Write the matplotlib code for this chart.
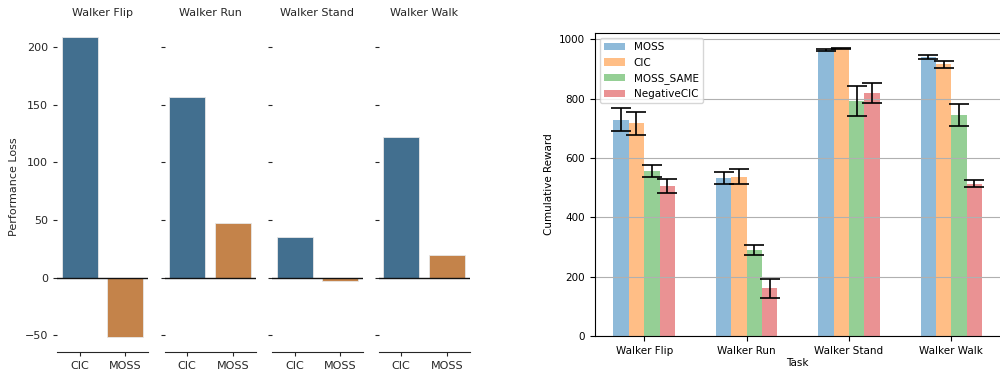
import matplotlib
matplotlib.use("Agg")
import matplotlib.pyplot as plt
import numpy as np

# left: performance loss per task
tasks = ["Walker Flip", "Walker Run", "Walker Stand", "Walker Walk"]
loss_methods = ["CIC", "MOSS"]
loss_cic = [209, 157, 35.5, 122]
loss_moss = [-51.5, 47.5, -2.6, 20]

# right: cumulative reward
methods = ["MOSS", "CIC", "MOSS_SAME", "NegativeCIC"]
reward_moss = [729, 532, 963, 940]
reward_cic = [716, 536, 969, 915]
reward_moss_same = [555, 290, 791, 746]
reward_negcic = [506, 160, 819, 513]
err_moss = [40, 20, 4, 6]
err_cic = [40, 25, 3, 13]
err_moss_same = [20, 18, 50, 37]
err_negcic = [24, 33, 35, 12]

fig = plt.figure(figsize=(10, 3.72), dpi=100)

txt = "#262626"
loss_colors = ["#426F8F", "#C4834A"]

# left small multiples
lefts = [0.057, 0.1645, 0.272, 0.3785]
axes = []
for i, task in enumerate(tasks):
    if i == 0:
        ax = fig.add_axes([lefts[i], 0.054, 0.091, 0.887])
    else:
        ax = fig.add_axes([lefts[i], 0.054, 0.091, 0.887], sharey=axes[0])
    axes.append(ax)
    vals = [loss_cic[i], loss_moss[i]]
    ax.bar(range(2), vals, width=0.8, color=loss_colors,
           edgecolor="#e8e8e8", linewidth=0.6)
    ax.axhline(0, color="#111111", linewidth=1.0)
    ax.set_xlim(-0.5, 1.5)
    ax.set_xticks(range(2))
    ax.set_xticklabels(loss_methods)
    ax.set_title(task, fontsize=8, color=txt, pad=4)
    for s in ["top", "right", "left"]:
        ax.spines[s].set_visible(False)
    ax.spines["bottom"].set_color(txt)
    ax.tick_params(axis="both", labelsize=8, colors=txt, length=3, width=0.8)
    if i > 0:
        plt.setp(ax.get_yticklabels(), visible=False)

axes[0].set_yticks([-50, 0, 50, 100, 150, 200])
axes[0].set_ylim(-64.5, 222)
axes[0].set_ylabel("Performance Loss", fontsize=8, color=txt)

# right grouped bar chart
ax2 = fig.add_axes([0.595, 0.097, 0.4055, 0.814])
x = np.arange(len(tasks))
w = 0.15
series = [reward_moss, reward_cic, reward_moss_same, reward_negcic]
errs = [err_moss, err_cic, err_moss_same, err_negcic]
cols = ["tab:blue", "tab:orange", "tab:green", "tab:red"]
for k in range(4):
    ax2.bar(x + (k - 1.5) * w, series[k], w, yerr=errs[k], color=cols[k],
            alpha=0.5, label=methods[k], capsize=7.5,
            error_kw=dict(elinewidth=1.2, capthick=1.2, ecolor="black"))
ax2.set_xticks(x)
ax2.set_xticklabels(tasks)
ax2.set_xlabel("Task", fontsize=7.5, labelpad=2)
ax2.set_ylabel("Cumulative Reward", fontsize=7.5)
ax2.tick_params(labelsize=7.5)
ax2.yaxis.grid(True)
ax2.legend(loc="upper left", fontsize=7.5)

plt.savefig("out.png", dpi=100)
